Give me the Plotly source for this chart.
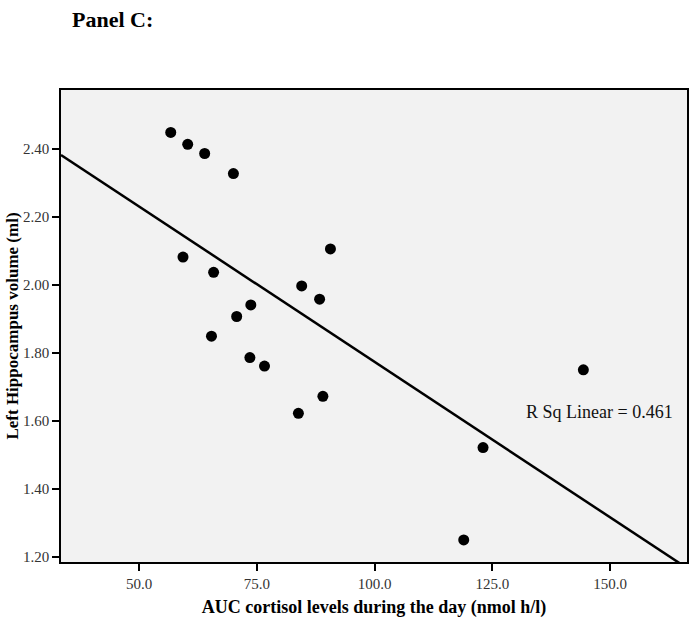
import numpy as np
import plotly.graph_objects as go

# AUC cortisol (nmol h/l) vs left hippocampus volume (ml)
auc_cortisol = [56.7, 60.3, 63.9, 70.0, 90.6, 59.3, 65.8, 84.5, 88.3, 73.7,
                70.7, 65.35, 73.5, 76.6, 89.0, 83.8, 144.3, 123.0, 118.9]
left_hippo = [2.449, 2.414, 2.387, 2.328, 2.106, 2.082, 2.037, 1.997, 1.958, 1.941,
              1.907, 1.849, 1.786, 1.761, 1.672, 1.622, 1.750, 1.521, 1.249]

x_ticks = [50.0, 75.0, 100.0, 125.0, 150.0]
y_ticks = [1.20, 1.40, 1.60, 1.80, 2.00, 2.20, 2.40]
x_range = [33.4, 166.3]
y_range = [1.184, 2.574]

# linear fit over the full axis span
slope, intercept = np.polyfit(auc_cortisol, left_hippo, 1)
fit_x = np.array(x_range)
fit_y = slope * fit_x + intercept

font = "Liberation Serif, Times New Roman, serif"

fig = go.Figure()
fig.add_trace(go.Scatter(x=fit_x, y=fit_y, mode="lines",
                         line=dict(color="black", width=2.5),
                         hoverinfo="skip"))
fig.add_trace(go.Scatter(x=auc_cortisol, y=left_hippo, mode="markers",
                         marker=dict(color="black", size=11)))

fig.add_annotation(text="R Sq Linear = 0.461", xref="paper", yref="paper",
                   x=(675 - 61) / 626, y=1 - (412 - 90) / 472,
                   xanchor="right", yanchor="middle", showarrow=False,
                   font=dict(family=font, size=18, color="#111"))
fig.add_annotation(text="<b>Panel C:</b>", xref="paper", yref="paper",
                   x=(70 - 61) / 626, y=1 + (90 - 19) / 472,
                   xanchor="left", yanchor="middle", showarrow=False,
                   font=dict(family=font, size=22, color="black"))

axis_common = dict(ticks="outside", ticklen=7, tickwidth=1.5, tickcolor="black",
                   showline=True, linecolor="black", linewidth=1.5, mirror=True,
                   showgrid=False, zeroline=False, automargin=False,
                   tickfont=dict(size=15, color="#333"))

fig.update_layout(
    width=696, height=622,
    margin=dict(l=61, r=9, t=90, b=60),
    paper_bgcolor="white", plot_bgcolor="#f2f2f2",
    showlegend=False,
    font=dict(family=font, color="#333"),
    xaxis=dict(range=x_range, tickvals=x_ticks, ticktext=[f"{v:.1f}" for v in x_ticks],
               title=dict(text="<b>AUC cortisol levels during the day (nmol h/l)</b>",
                          font=dict(size=18, color="black"), standoff=10),
               **axis_common),
    yaxis=dict(range=y_range, tickvals=y_ticks, ticktext=[f"{v:.2f}" for v in y_ticks],
               title=dict(text="<b>Left Hippocampus volume (ml)</b>",
                          font=dict(size=17, color="black"), standoff=0),
               **axis_common),
)

fig.write_html("out.html", config={"displayModeBar": False},
               post_script="document.body.style.margin='0';")
